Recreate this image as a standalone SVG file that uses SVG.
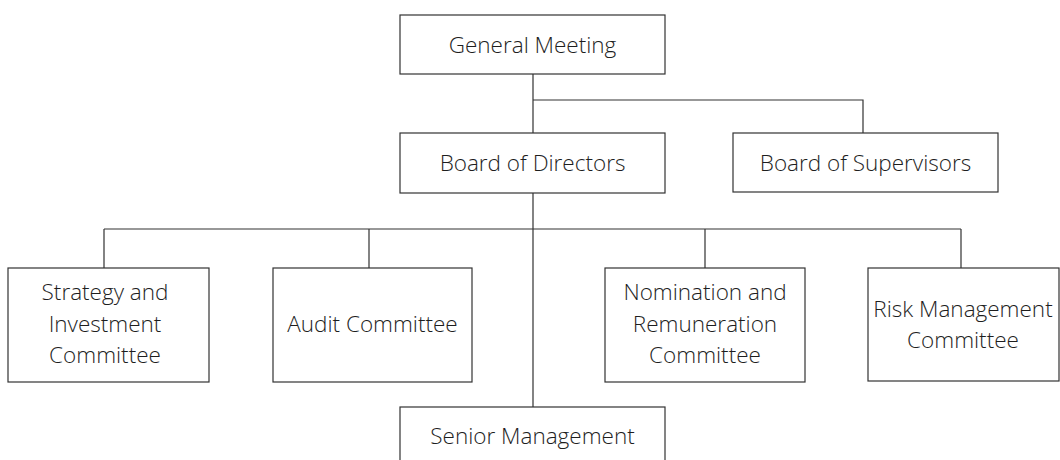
<svg xmlns="http://www.w3.org/2000/svg" width="1060" height="460" viewBox="0 0 1060 460">
<style>
.box{fill:#fff;stroke:#333;stroke-width:1.2}
.lbl{font-family:"Open Sans","Noto Sans",sans-serif;font-size:22.5px;font-weight:300;fill:#1e1e1e;text-anchor:middle}
.conn{fill:none;stroke:#333;stroke-width:1.2}
</style>
<rect width="1060" height="460" fill="#fff"/>
<g id="connectors">
<path class="conn" d="M533 74V133M533 100H863V133M533 193V407M104 229H961M104 229V268M369 229V268M705 229V268M961 229V268"/>
</g>
<g id="general-meeting"><rect class="box" x="400" y="15" width="265" height="59"/><text class="lbl" x="532.5" y="53">General Meeting</text></g>
<g id="board-of-directors"><rect class="box" x="400" y="133" width="265" height="60"/><text class="lbl" x="532.5" y="171">Board of Directors</text></g>
<g id="board-of-supervisors"><rect class="box" x="733" y="133" width="265" height="59"/><text class="lbl" x="865.5" y="171">Board of Supervisors</text></g>
<g id="strategy"><rect class="box" x="8" y="268" width="201" height="114"/><text class="lbl" x="105" y="300">Strategy and</text><text class="lbl" x="105" y="332">Investment</text><text class="lbl" x="105" y="363">Committee</text></g>
<g id="audit"><rect class="box" x="273" y="268" width="199" height="114"/><text class="lbl" x="372.5" y="332">Audit Committee</text></g>
<g id="nomination"><rect class="box" x="605" y="268" width="200" height="114"/><text class="lbl" x="705" y="300">Nomination and</text><text class="lbl" x="705" y="332">Remuneration</text><text class="lbl" x="705" y="363">Committee</text></g>
<g id="risk"><rect class="box" x="868" y="268" width="191" height="113"/><text class="lbl" x="963" y="317">Risk Management</text><text class="lbl" x="963" y="348">Committee</text></g>
<g id="senior-management"><rect class="box" x="400" y="407" width="265" height="70"/><text class="lbl" x="532.5" y="444">Senior Management</text></g>
</svg>
